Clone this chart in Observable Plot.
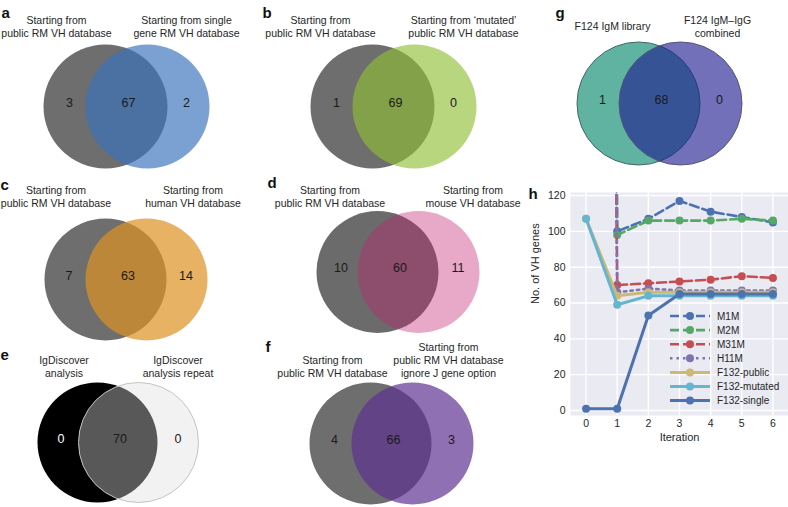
<!DOCTYPE html>
<html><head><meta charset="utf-8">
<script src="https://cdn.jsdelivr.net/npm/d3@7"></script>
<script src="https://cdn.jsdelivr.net/npm/@observablehq/plot@0.6"></script>
<style>
body{margin:0;background:#fff;}
#fig{position:relative;width:788px;height:507px;overflow:hidden;background:#fff;}
.panel{position:absolute;}
</style></head><body><div id="fig"></div>
<script>
// ---------------- Data: Venn panels a–g ----------------
const vennIds = ["a", "b", "c", "d", "e", "f", "g"];
const vennLeftLabels = [
  "Starting from\npublic RM VH database",
  "Starting from\npublic RM VH database",
  "Starting from\npublic RM VH database",
  "Starting from\npublic RM VH database",
  "IgDiscover\nanalysis",
  "Starting from\npublic RM VH database",
  "F124 IgM library"
];
const vennRightLabels = [
  "Starting from single\ngene RM VH database",
  "Starting from \u2018mutated\u2019\npublic RM VH database",
  "Starting from\nhuman VH database",
  "Starting from\nmouse VH database",
  "IgDiscover\nanalysis repeat",
  "Starting from\npublic RM VH database\nignore J gene option",
  "F124 IgM\u2013IgG\ncombined"
];
const vennLeftOnly = [3, 1, 7, 10, 0, 4, 1];
const vennShared = [67, 69, 63, 60, 70, 66, 68];
const vennRightOnly = [2, 0, 14, 11, 0, 3, 0];

// ---------------- Data: panel h ----------------
const iterations = [0, 1, 2, 3, 4, 5, 6];
const seriesNames = ["M1M", "M2M", "M31M", "H11M", "F132-public", "F132-mutated", "F132-single"];
const m1mValues = [2000, 100, 107, 117, 111, 108, 105];
const m2mValues = [2000, 98, 106, 106, 106, 107, 106];
const m31mValues = [2000, 70, 71, 72, 73, 75, 74];
const h11mValues = [2000, 66, 68, 67, 67, 67, 67];
const f132PublicValues = [107, 64, 66, 66, 66, 66, 66];
const f132MutatedValues = [107, 59, 64, 64, 64, 64, 64];
const f132SingleValues = [1, 1, 53, 65, 65, 65, 65];
const yTickValues = [0, 20, 40, 60, 80, 100, 120];

// ---------------- Layout & styles ----------------
const FONT = '"Liberation Sans", Arial, Helvetica, sans-serif';
const fig = document.getElementById("fig");
function place(node, left, top, w) {
  const d = document.createElement("div");
  d.className = "panel";
  d.style.left = left + "px"; d.style.top = top + "px"; d.style.width = w + "px";
  d.appendChild(node); fig.appendChild(d);
}
const vennLayout = {
  a: {left: 0, top: 0, w: 260, cx: 126, cy: 106, r: 62, sep: 42, lx: [-70, 60], letter: [1, 13], L: "#6e6e6e", R: "#7ba0d2", O: "#4f6f9f"},
  b: {left: 260, top: 0, w: 260, cx: 133, cy: 106, r: 62, sep: 42, lx: [-73, 70], letter: [2, 13], L: "#6e6e6e", R: "#b8d67e", O: "#7fa34b"},
  c: {left: 0, top: 170, w: 260, cx: 125.5, cy: 109, r: 61, sep: 41, lx: [-70, 67], letter: [0, 15], L: "#6e6e6e", R: "#e8b264", O: "#b8863f"},
  d: {left: 260, top: 170, w: 260, cx: 137.5, cy: 101.5, r: 61, sep: 41, lx: [-68, 75], letter: [7, 13], L: "#6b6b6b", R: "#e8a8c8", O: "#8f4b6d"},
  e: {left: 0, top: 340, w: 260, cx: 117.5, cy: 102, r: 60, sep: 41, lx: [-54, 60], letter: [0, 15], L: "#000000", R: "#f2f2f2", O: "#585858", strokeR: "#c4c4c4", leftNumberColor: "#ffffff"},
  f: {left: 260, top: 340, w: 260, cx: 131, cy: 103, r: 61, sep: 42, lx: [-59, 57], letter: [5, 7], L: "#6e6e6e", R: "#8f70b2", O: "#5f4587"},
  g: {left: 520, top: 0, w: 268, cx: 139, cy: 103, r: 61.5, sep: 42, lx: [-47, 58], letter: [35, 13], L: "#5fb3a0", R: "#7170b8", O: "#3d4d8f", anchor: "middle", strokeL: "#3f6a62", strokeR: "#55557a"}
};
const numberOffsets = [-57, 2, 60];

// Solve a fill colour + opacity so that the right circle drawn over the left one gives the overlap colour.
function overlay(Lc, Rc, Oc) {
  const L = d3.rgb(Lc), R = d3.rgb(Rc), O = d3.rgb(Oc);
  let num = 0, den = 0;
  for (const k of ["r", "g", "b"]) { num += (R[k] - O[k]) * (255 - L[k]); den += (255 - L[k]) ** 2; }
  const t = Math.min(0.95, Math.max(0.05, num / den));
  const a = 1 - t;
  const cl = (k) => Math.max(0, Math.min(255, (R[k] - t * 255) / a));
  return {fill: d3.rgb(cl("r"), cl("g"), cl("b")).formatHex(), alpha: a};
}

vennIds.forEach((id, i) => {
  const L = vennLayout[id];
  const W = L.w, H = 170;
  const ov = overlay(L.L, L.R, L.O);
  const anchor = L.anchor || "bottom";
  const labelY = anchor === "middle" ? 25.5 : 36.7;
  const counts = [vennLeftOnly[i], vennShared[i], vennRightOnly[i]];
  const numColors = [L.leftNumberColor || "#1a1a1a", "#1a1a1a", "#1a1a1a"];
  const plot = Plot.plot({
    width: W, height: H, margin: 0,
    x: {domain: [-L.cx, W - L.cx], range: [0, W], axis: null},
    y: {domain: [-L.cy, H - L.cy], range: [0, H], axis: null},
    color: {type: "identity"},
    style: {background: "transparent", overflow: "visible", fontFamily: FONT, color: "#1e1e1e"},
    marks: [
      Plot.dot(["left"], {x: () => -L.sep / 2, y: () => 0, r: L.r, fill: L.L, stroke: L.strokeL || "none", strokeWidth: 1}),
      Plot.dot(["right"], {x: () => L.sep / 2, y: () => 0, r: L.r, fill: ov.fill, fillOpacity: ov.alpha, stroke: L.strokeR || "none", strokeWidth: 1}),
      Plot.text(counts, {x: (d, j) => numberOffsets[j], y: () => -4, text: (d) => String(d), fontSize: 12.5, fill: (d, j) => numColors[j]}),
      Plot.text([vennLeftLabels[i], vennRightLabels[i]], {x: (d, j) => L.lx[j], y: () => labelY - L.cy, text: (d) => d, lineAnchor: anchor, lineHeight: 1.25, fontSize: 10.5, fill: "#262626"}),
      Plot.text([id], {x: () => L.letter[0] - L.cx, y: () => L.letter[1] - L.cy, text: (d) => d, textAnchor: "start", fontWeight: "bold", fontSize: 15, fill: "#111"})
    ]
  });
  place(plot, L.left, L.top, W);
});

// ---------------- Panel h ----------------
const seriesValues = [m1mValues, m2mValues, m31mValues, h11mValues, f132PublicValues, f132MutatedValues, f132SingleValues];
const seriesStyle = {
  "M1M": {color: "#4c72b0", dash: "9,4", width: 2.6},
  "M2M": {color: "#55a868", dash: "9,4", width: 2.6},
  "M31M": {color: "#c44e52", dash: "9,4", width: 2.6},
  "H11M": {color: "#8172b2", dash: "2.5,4", width: 2.6},
  "F132-public": {color: "#ccb974", dash: null, width: 3},
  "F132-mutated": {color: "#64b5cd", dash: null, width: 3},
  "F132-single": {color: "#4c72b0", dash: null, width: 3}
};
const rows = seriesNames.flatMap((name, i) => seriesValues[i].map((v, j) => ({series: name, iteration: iterations[j], value: v})));

const hLayout = {left: 520, top: 175, width: 268, height: 332, mL: 50, mT: 17, mB: 92};
const seriesMarks = seriesNames.flatMap((name) => {
  const s = seriesStyle[name];
  const sub = rows.filter((r) => r.series === name);
  const lineOpts = {x: "iteration", y: "value", stroke: s.color, strokeWidth: s.width, clip: true};
  if (s.dash) lineOpts.strokeDasharray = s.dash;
  return [
    Plot.line(sub, lineOpts),
    Plot.dot(sub, {x: "iteration", y: "value", fill: s.color, r: 4, clip: true})
  ];
});
const hPlot = Plot.plot({
  width: hLayout.width, height: hLayout.height,
  marginLeft: hLayout.mL, marginRight: 0, marginTop: hLayout.mT, marginBottom: hLayout.mB,
  x: {domain: [-0.5, 6.5]},
  y: {domain: [-2.8, 121.7]},
  style: {background: "transparent", overflow: "visible", fontFamily: FONT, fontSize: "10.5px", color: "#262626"},
  marks: [
    Plot.frame({fill: "#eaeaf2", stroke: "none"}),
    Plot.gridX({ticks: iterations, stroke: "#ffffff", strokeOpacity: 1, strokeWidth: 1.4}),
    Plot.gridY({ticks: yTickValues, stroke: "#ffffff", strokeOpacity: 1, strokeWidth: 1.4}),
    Plot.axisX({ticks: iterations, tickFormat: "d", tickSize: 0, tickPadding: 4, label: null, fontSize: 10.5}),
    Plot.axisY({ticks: yTickValues, tickFormat: "d", tickSize: 0, tickPadding: 5, label: null, fontSize: 10.5}),
    ...seriesMarks,
    Plot.text(["Iteration"], {frameAnchor: "bottom", dy: 25, fontSize: 11, fill: "#262626"}),
    Plot.text(["No. of VH genes"], {frameAnchor: "left", dx: -35, rotate: -90, fontSize: 11, fill: "#262626"}),
    Plot.text(["h"], {frameAnchor: "top-left", dx: -42, dy: -4, textAnchor: "start", fontWeight: "bold", fontSize: 15, fill: "#111"})
  ]
});
place(hPlot, hLayout.left, hLayout.top, hLayout.width);

// Legend for panel h
const leg = d3.create("svg").attr("width", 788).attr("height", 507)
  .style("position", "absolute").style("left", "0px").style("top", "0px").style("overflow", "visible")
  .style("pointer-events", "none").style("font-family", FONT);
const legX0 = 670, legX1 = 710, legDot = 690, legText = 717, legY0 = 316, legStep = 14.1;
seriesNames.forEach((name, i) => {
  const s = seriesStyle[name];
  const y = legY0 + i * legStep;
  leg.append("line").attr("x1", legX0).attr("x2", legX1).attr("y1", y).attr("y2", y)
    .attr("stroke", s.color).attr("stroke-width", s.width).attr("stroke-dasharray", s.dash || null);
  leg.append("circle").attr("cx", legDot).attr("cy", y).attr("r", 4).attr("fill", s.color);
  leg.append("text").attr("x", legText).attr("y", y).attr("dy", "0.35em").attr("font-size", 10)
    .attr("fill", "#262626").text(name);
});
fig.appendChild(leg.node());
</script></body></html>
